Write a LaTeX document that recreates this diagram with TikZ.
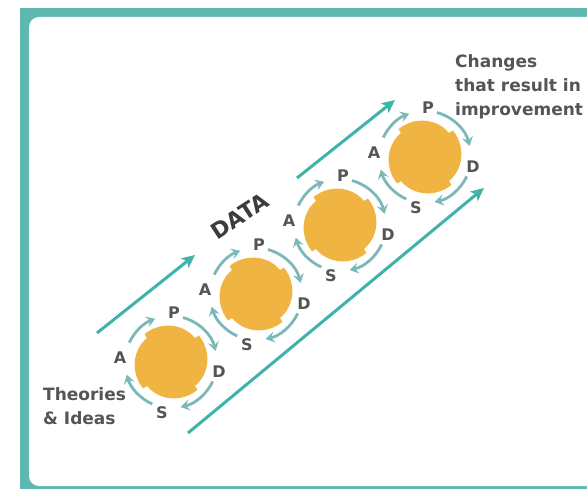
\documentclass[tikz,border=0pt]{standalone}
\usepackage{fontspec}
\setmainfont{DejaVu Sans}
\usetikzlibrary{arrows.meta}
\definecolor{frameteal}{HTML}{5DB8B0}
\definecolor{arrowteal}{HTML}{3FB3AA}
\definecolor{ringteal}{HTML}{7CB8BA}
\definecolor{blobor}{HTML}{F0B443}
\definecolor{txtgray}{HTML}{555555}
\definecolor{datagray}{HTML}{3C3C3C}
\begin{document}
\begin{tikzpicture}[x=1pt,y=-1pt,
  bigarrow/.style={arrowteal, line width=3pt, -{Stealth[length=13pt,width=12pt,inset=3pt]}},
  ringarc/.style={ringteal, line width=2.8pt, -{Stealth[length=9pt,width=11pt,inset=3.5pt]}},
  cyclbl/.style={font=\bfseries\fontsize{16}{16}\selectfont, text=txtgray, inner sep=0pt},
  sidetext/.style={font=\bfseries\fontsize{17}{24}\selectfont, text=txtgray, align=left, inner sep=0pt, anchor=north west},
]
\useasboundingbox (0,0) rectangle (587,489);
\fill[frameteal] (20,8) rectangle (587,489);
\fill[white, rounded corners=10pt] (29,17) rectangle (600,486);

% main arrows
\coordinate (a1s) at (97,333);  \coordinate (a1e) at (195,255);
\coordinate (a2s) at (297,178); \coordinate (a2e) at (395,100);
\coordinate (a3s) at (188,433); \coordinate (a3e) at (484,188);
\draw[bigarrow] (a1s) -- (a1e);
\draw[bigarrow] (a2s) -- (a2e);
\draw[bigarrow] (a3s) -- (a3e);

% PDSA cycles
\foreach \cx/\cy/\i in {171/362/1, 256/294/2, 340/225/3, 425/157/4}{
  \begin{scope}[shift={(\cx,\cy)}, yscale=-1]
    \fill[blobor] plot[domain=0:360, samples=241] (\x:{34+4.5*mod(\x+45,90)/90}) -- cycle;
    \draw[ringarc] (155:46) arc[start angle=155, end angle=110, radius=46];
    \draw[ringarc] (75:46) arc[start angle=75, end angle=14, radius=46];
    \draw[ringarc] (-25:46) arc[start angle=-25, end angle=-78, radius=46];
    \draw[ringarc] (-114:46) arc[start angle=-114, end angle=-164, radius=46];
    \node[cyclbl] (P\i) at (3,49) {P};
    \node[cyclbl] (A\i) at (-51,4) {A};
    \node[cyclbl] (D\i) at (48,-10) {D};
    \node[cyclbl] (S\i) at (-9,-51) {S};
  \end{scope}
}

\node[font=\bfseries\fontsize{22}{22}\selectfont, text=datagray, rotate=33, inner sep=0pt] (data) at (240,216) {DATA};
\node[sidetext] (changes) at (455,54) {Changes\\that result in\\improvement};
\node[sidetext] (theories) at (43,387) {Theories\\\& Ideas};
\end{tikzpicture}
\end{document}
